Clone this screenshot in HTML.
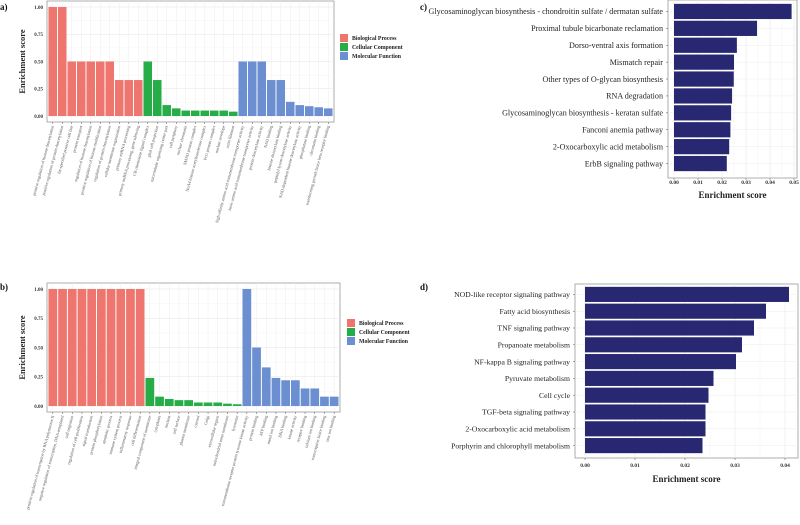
<!DOCTYPE html>
<html><head><meta charset="utf-8"><style>
html,body{margin:0;padding:0;background:#fff;}
svg{display:block;font-family:"Liberation Serif",serif;}
</style></head><body>
<svg id="fig" width="800" height="525" viewBox="0 0 800 525"></svg>
<script>
// ---- Panel a data ----
const aCats = ["positive regulation of histone deacetylation","positive regulation of protein deacetylation","fat-specified positive cell fate","protein transport","regulation of histone deacetylation","positive regulation of histone modification","regulation of protein deacetylation","cellular membrane organization","primary miRNA processing","primary miRNA processing, gene silencing",
"CB chemokine ligand complex","glial cell projection","microtubule organizing center part","cell periphery","nuclear chromatin","SMAD protein complex","NuA4 histone acetyltransferase complex","PcG protein complex","nuclear envelope","actin filament",
"high-affinity amino acid transmembrane transporter activity","basic amino acid transmembrane transporter activity","protein deacetylase activity","NAD binding","histone deacetylase binding","peptidyl-lysine deacetylase activity","NAD-dependent histone deacetylase activity","phosphatase binding","chromatin binding","transforming growth factor beta receptor binding"];
const aGroups = [0,0,0,0,0,0,0,0,0,0,1,1,1,1,1,1,1,1,1,1,2,2,2,2,2,2,2,2,2,2];
const aValues = [1,1,0.5,0.5,0.5,0.5,0.5,0.33,0.33,0.33, 0.5,0.33,0.1,0.07,0.05,0.05,0.05,0.05,0.05,0.04, 0.5,0.5,0.5,0.33,0.33,0.13,0.1,0.09,0.08,0.07];
// ---- Panel b data ----
const bCats = ["positive regulation of transcription by RNA polymerase II","negative regulation of transcription, DNA-templated","cell migration","regulation of cell proliferation","signal transduction","protein phosphorylation","apoptotic process","immune system process","inflammatory response","cell differentiation",
"integral component of membrane","cytoplasm","nucleus","cell surface","plasma membrane","cytosol","Golgi","extracellular region","mitochondrial inner membrane","lysosome",
"transmembrane receptor protein tyrosine kinase activity","protein binding","ATP binding","metal ion binding","DNA binding","kinase activity","receptor binding","calcium ion binding","transcription factor binding","zinc ion binding"];
const bGroups = [0,0,0,0,0,0,0,0,0,0,1,1,1,1,1,1,1,1,1,1,2,2,2,2,2,2,2,2,2,2];
const bValues = [1,1,1,1,1,1,1,1,1,1, 0.24,0.08,0.06,0.05,0.05,0.03,0.03,0.03,0.02,0.015, 1,0.5,0.33,0.24,0.22,0.22,0.15,0.15,0.08,0.08];
const gTicks = [0,0.25,0.5,0.75,1];
const gTickLabels = ["0.00","0.25","0.50","0.75","1.00"];
const legendNames = ["Biological Process","Cellular Component","Molecular Function"];
// ---- Panel c data ----
const cCats = ["Glycosaminoglycan biosynthesis - chondroitin sulfate / dermatan sulfate","Proximal tubule bicarbonate reclamation","Dorso-ventral axis formation","Mismatch repair","Other types of O-glycan biosynthesis","RNA degradation","Glycosaminoglycan biosynthesis - keratan sulfate","Fanconi anemia pathway","2-Oxocarboxylic acid metabolism","ErbB signaling pathway"];
const cValues = [0.049,0.0346,0.0262,0.025,0.0249,0.0242,0.0238,0.0235,0.023,0.022];
const cTicks = [0,0.01,0.02,0.03,0.04,0.05];
const cTickLabels = ["0.00","0.01","0.02","0.03","0.04","0.05"];
// ---- Panel d data ----
const dCats = ["NOD-like receptor signaling pathway","Fatty acid biosynthesis","TNF signaling pathway","Propanoate metabolism","NF-kappa B signaling pathway","Pyruvate metabolism","Cell cycle","TGF-beta signaling pathway","2-Oxocarboxylic acid metabolism","Porphyrin and chlorophyll metabolism"];
const dValues = [0.0408,0.0362,0.0338,0.0314,0.0302,0.0257,0.0247,0.0241,0.0241,0.0235];
const dTicks = [0,0.01,0.02,0.03,0.04];
const dTickLabels = ["0.00","0.01","0.02","0.03","0.04"];

const NS="http://www.w3.org/2000/svg";
const svg=document.getElementById('fig');
const colors=["#ef766f","#27ad47","#6b8fd0"];
function mk(tag,attrs,parent,text){const e=document.createElementNS(NS,tag);for(const k in attrs)e.setAttribute(k,attrs[k]);if(text!==undefined)e.textContent=text;(parent||svg).appendChild(e);return e;}

function goPanel(name,cats,groups,vals,box,legY,letter,letterY){
  const g=mk('g',{});
  
  
  const {x0,x1,yTop,yBot,y0,y1}=box;
  const ys=v=>y0+(y1-y0)*v;
  mk('rect',{x:x0,y:yTop,width:x1-x0,height:yBot-yTop,fill:'#fff',stroke:'#999','stroke-width':0.8},g);
  const n=cats.length, w=(x1-x0-2)/n;
  const xs=i=>x0+1+w*i;
  for(let t=0;t<gTicks.length;t++){
    mk('line',{x1:x0,x2:x1,y1:ys(gTicks[t]),y2:ys(gTicks[t]),stroke:'#e6e6e6','stroke-width':0.6},g);
    if(t<gTicks.length-1)mk('line',{x1:x0,x2:x1,y1:ys((gTicks[t]+gTicks[t+1])/2),y2:ys((gTicks[t]+gTicks[t+1])/2),stroke:'#f1f1f1','stroke-width':0.4},g);
    const tl=mk('text',{x:x0-4,y:ys(gTicks[t])+1.8,'font-size':5,'font-weight':'bold','text-anchor':'end',fill:'#333'},g,gTickLabels[t]);
    
    
  }
  for(let i=0;i<n;i++) mk('line',{x1:xs(i)+w/2,x2:xs(i)+w/2,y1:yTop,y2:yBot,stroke:'#ececec','stroke-width':0.5},g);
  for(let i=0;i<n;i++){
    const r=mk('rect',{x:xs(i)+w*0.05,y:ys(vals[i]),width:w*0.9,height:ys(0)-ys(vals[i]),fill:colors[groups[i]]},g);
    
    
    const cx=xs(i)+w/2;
    mk('line',{x1:cx,x2:cx,y1:yBot,y2:yBot+2,stroke:'#555','stroke-width':0.5},g);
    const t=mk('text',{x:0,y:0,'font-size':4.2,'text-anchor':'end',fill:'#555',transform:`translate(${cx+1.2},${yBot+4}) rotate(-75)`},g,cats[i]);
    
    
  }
  const yt=mk('text',{x:0,y:0,'font-size':8.5,'font-weight':'bold','text-anchor':'middle',fill:'#222',transform:`translate(${x0-22},${(yTop+yBot)/2}) rotate(-90)`},g,'Enrichment score');
  
  
  const lg=mk('g',{},g);
  
  
  for(let k=0;k<3;k++){
    const e=mk('g',{},lg);
    
    
    mk('rect',{x:legY.x,y:legY.y+k*9-4,width:8,height:8,fill:colors[k]},e);
    mk('text',{x:legY.x+12,y:legY.y+k*9+2,'font-size':5.8,'font-weight':'bold',fill:'#222'},e,legendNames[k]);
  }
  const L=mk('text',{x:0,y:letterY,'font-size':9,'font-weight':'bold',fill:'#111'},g,letter);
  
  
}

function keggPanel(name,cats,vals,ticks,tickLabels,box,letter,letterPos){
  const g=mk('g',{});
  
  
  const {x0,x1,yTop,yBot,zx,unit,barTop,barBot,labelX,tickY,titleY,fs}=box;
  const xs=v=>zx+v*unit;
  mk('rect',{x:x0,y:yTop,width:x1-x0,height:yBot-yTop,fill:'#fff',stroke:'#999','stroke-width':0.8},g);
  for(let t=0;t<ticks.length;t++){
    mk('line',{x1:xs(ticks[t]),x2:xs(ticks[t]),y1:yTop,y2:yBot,stroke:'#e6e6e6','stroke-width':0.6},g);
    if(t<ticks.length-1){const m=xs((ticks[t]+ticks[t+1])/2);mk('line',{x1:m,x2:m,y1:yTop,y2:yBot,stroke:'#f1f1f1','stroke-width':0.4},g);}
    mk('line',{x1:xs(ticks[t]),x2:xs(ticks[t]),y1:yBot,y2:yBot+2,stroke:'#555','stroke-width':0.5},g);
    const tl=mk('text',{x:xs(ticks[t]),y:tickY,'font-size':5.5,'font-weight':'bold','text-anchor':'middle',fill:'#333'},g,tickLabels[t]);
    
    
  }
  const n=cats.length,h=(barBot-barTop)/n;
  for(let i=0;i<n;i++){
    const cy=barTop+h*(i+0.5);
    mk('line',{x1:x0,x2:x1,y1:cy,y2:cy,stroke:'#ececec','stroke-width':0.5},g);
    const r=mk('rect',{x:xs(0),y:barTop+h*i+h*0.05,width:xs(vals[i])-xs(0),height:h*0.9,fill:'#272772'},g);
    
    
    mk('line',{x1:x0-2,x2:x0,y1:cy,y2:cy,stroke:'#555','stroke-width':0.5},g);
    const t=mk('text',{x:labelX,y:cy+2.7,'font-size':fs,'text-anchor':'end',fill:'#222'},g,cats[i]);
    
    
  }
  const xt=mk('text',{x:(x0+x1)/2,y:titleY,'font-size':9,'font-weight':'bold','text-anchor':'middle',fill:'#222'},g,'Enrichment score');
  
  
  const L=mk('text',{x:letterPos[0],y:letterPos[1],'font-size':9,'font-weight':'bold',fill:'#111'},g,letter);
  
  
}

goPanel('go-a',aCats,aGroups,aValues,{x0:47,x1:334,yTop:1,yBot:122,y0:116,y1:7},{x:340,y:38},'a)',10);
goPanel('go-b',bCats,bGroups,bValues,{x0:47,x1:340,yTop:283,yBot:412,y0:406,y1:289},{x:347,y:323},'b)',290);
keggPanel('kegg-c',cCats,cValues,cTicks,cTickLabels,{x0:668,x1:797,yTop:0,yBot:178,zx:674,unit:2400,barTop:3,barBot:172,labelX:663,tickY:184,titleY:198,fs:8.1},'c)',[420,10]);
keggPanel('kegg-d',dCats,dValues,dTicks,dTickLabels,{x0:575,x1:798,yTop:284,yBot:458,zx:585,unit:5000,barTop:286,barBot:454,labelX:570,tickY:467,titleY:482,fs:7.7},'d)',[420,290]);
</script>
</body></html>
